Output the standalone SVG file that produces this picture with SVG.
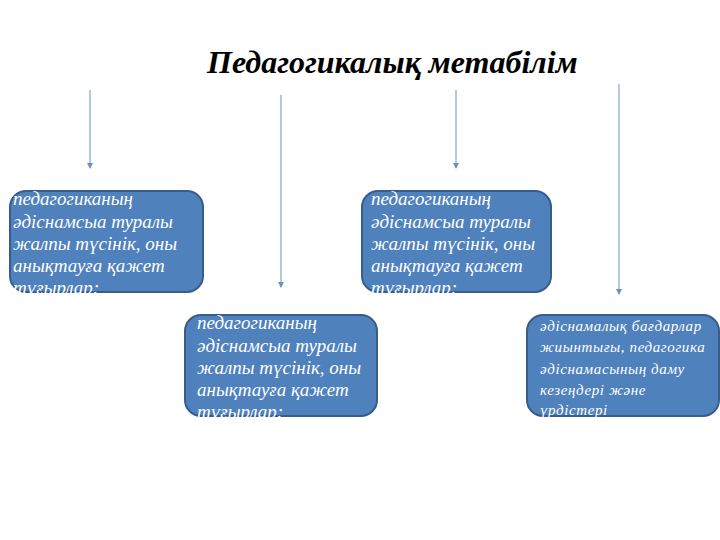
<svg xmlns="http://www.w3.org/2000/svg" width="720" height="540" viewBox="0 0 720 540">
<style>
.box{fill:#4F81BD;stroke:#385D8A;stroke-width:2}
.t{font-family:"Liberation Serif",serif;font-style:italic;font-size:19px;fill:#fff}
.t2{font-family:"Liberation Serif",serif;font-style:italic;font-size:15px;fill:#fff;letter-spacing:0.6px}
.title{font-family:"Liberation Serif",serif;font-style:italic;font-weight:bold;font-size:32px;fill:#000}
.c{stroke:#8EA9D0;stroke-width:1.3;fill:none;marker-end:url(#ah)}
</style>
<defs>
<marker id="ah" markerWidth="6" markerHeight="6" refX="5" refY="3" orient="auto" markerUnits="userSpaceOnUse">
<path d="M0,0 L6,3 L0,6 z" fill="#6F8FBF"/>
</marker>
</defs>
<rect width="720" height="540" fill="#fff"/>
<text class="title" x="207" y="73">Педагогикалық метабілім</text>
<g id="connectors">
<line class="c" x1="90" y1="90" x2="90" y2="168"/>
<line class="c" x1="281" y1="95" x2="281" y2="287"/>
<line class="c" x1="456" y1="90" x2="456" y2="168"/>
<line class="c" x1="619" y1="84" x2="619" y2="294"/>
</g>
<g id="node1">
<rect class="box" x="10" y="191" width="193" height="101" rx="16"/>
<text class="t"><tspan x="13" y="205">педагогиканың</tspan><tspan x="13" y="228">әдіснамсыа туралы</tspan><tspan x="13" y="250">жалпы түсінік, оны</tspan><tspan x="13" y="272">анықтауға қажет</tspan><tspan x="13" y="294">тұғырлар;</tspan></text>
</g>
<g id="node2">
<rect class="box" x="185" y="315" width="192" height="101" rx="16"/>
<text class="t"><tspan x="197" y="329">педагогиканың</tspan><tspan x="197" y="352">әдіснамсыа туралы</tspan><tspan x="197" y="374">жалпы түсінік, оны</tspan><tspan x="197" y="396">анықтауға қажет</tspan><tspan x="197" y="418">тұғырлар;</tspan></text>
</g>
<g id="node3">
<rect class="box" x="362" y="191" width="189" height="101" rx="16"/>
<text class="t"><tspan x="371" y="205">педагогиканың</tspan><tspan x="371" y="228">әдіснамсыа туралы</tspan><tspan x="371" y="250">жалпы түсінік, оны</tspan><tspan x="371" y="272">анықтауға қажет</tspan><tspan x="371" y="294">тұғырлар;</tspan></text>
</g>
<g id="node4">
<rect class="box" x="527" y="315" width="192" height="101" rx="16"/>
<text class="t2"><tspan x="540" y="331">әдіснамалық бағдарлар</tspan><tspan x="540" y="352">жиынтығы, педагогика</tspan><tspan x="540" y="374">әдіснамасының даму</tspan><tspan x="540" y="395">кезеңдері және</tspan><tspan x="540" y="415">үрдістері</tspan></text>
</g>
</svg>
